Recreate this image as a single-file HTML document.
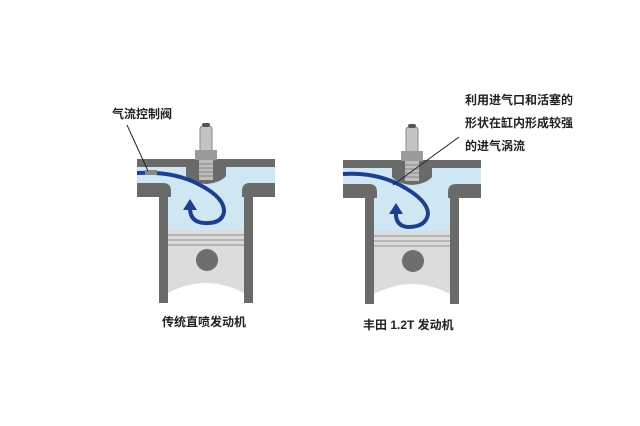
<!DOCTYPE html>
<html><head><meta charset="utf-8"><style>
html,body{margin:0;padding:0;background:#fff;}
svg{display:block;}
text{font-family:"Liberation Sans","Noto Sans CJK SC",sans-serif;font-weight:bold;fill:#222;}
</style></head><body>
<svg width="640" height="426" viewBox="0 0 640 426" xmlns="http://www.w3.org/2000/svg">
<defs>
<g id="eng">
  <!-- blue interior -->
  <rect x="137" y="166" width="138" height="18" fill="#cfe6f3"/>
  <rect x="167" y="180" width="78" height="52" fill="#cfe6f3"/>
  <!-- head top -->
  <rect x="137" y="159" width="138" height="8" fill="#6a6a6a"/>
  <!-- spark plug bump -->
  <path d="M186 166 L226 166 L226 176 Q220 183 206 184 Q192 183 186 176 Z" fill="#6a6a6a"/>
  <rect x="200" y="126" width="12" height="26" rx="3" fill="#c4c4c4" stroke="#888" stroke-width="1"/>
  <rect x="202" y="123" width="8" height="4" rx="2" fill="#555"/>
  <rect x="195" y="150" width="22" height="10" fill="#9a9a9a"/>
  <rect x="199" y="160" width="14" height="20" fill="#bdbdbd"/>
  <g stroke="#888" stroke-width="1"><line x1="199" y1="164" x2="213" y2="164"/><line x1="199" y1="168" x2="213" y2="168"/><line x1="199" y1="172" x2="213" y2="172"/><line x1="199" y1="176" x2="213" y2="176"/></g>
  <!-- lower head + walls -->
  <path d="M137 183 L163 183 Q171 183 171 191 L171 197 L168 197 L168 303 L159 303 L159 197 L137 197 Z" fill="#6a6a6a"/>
  <path d="M275 183 L250 183 Q242 183 242 191 L242 197 L244 197 L244 303 L253 303 L253 197 L275 197 Z" fill="#6a6a6a"/>
  <!-- piston -->
  <path d="M168 230 L244 230 L244 293 Q225 283 206 283 Q187 283 168 293 Z" fill="#dcdcdc"/>
  <g stroke="#aaa" stroke-width="1.5"><line x1="168" y1="235" x2="244" y2="235"/><line x1="168" y1="240" x2="244" y2="240"/><line x1="168" y1="245" x2="244" y2="245"/></g>
  <circle cx="207" cy="260" r="11" fill="#6e6e6e"/>
</g>
</defs>
<use href="#eng"/>
<use href="#eng" x="206" y="1"/>
<!-- left swirl -->
<path d="M137 173 Q175 171 200 185 Q225 198 224 212 Q222 224 204 223 Q190 222 190 208" fill="none" stroke="#1d3f8f" stroke-width="4"/>
<path d="M183 210 L190 199 L197 210 Z" fill="#1d3f8f"/>
<rect x="145" y="170" width="12" height="5" fill="#888"/>
<line x1="127" y1="125" x2="148" y2="171" stroke="#222" stroke-width="1"/>
<text x="112" y="118" font-size="12">气流控制阀</text>
<text x="162" y="326" font-size="12">传统直喷发动机</text>
<!-- right swirl -->
<path d="M343 174 Q375 172 400 185 Q428 200 428 214 Q426 227 408 227 Q395 226 396 212" fill="none" stroke="#1d3f8f" stroke-width="4"/>
<path d="M389 214 L396 203 L403 214 Z" fill="#1d3f8f"/>
<line x1="459" y1="137" x2="393" y2="185" stroke="#222" stroke-width="1"/>
<text x="465" y="104" font-size="12">利用进气口和活塞的</text>
<text x="465" y="127" font-size="12">形状在缸内形成较强</text>
<text x="465" y="150" font-size="12">的进气涡流</text>
<text x="363" y="329" font-size="12">丰田 1.2T 发动机</text>
</svg>
</body></html>
